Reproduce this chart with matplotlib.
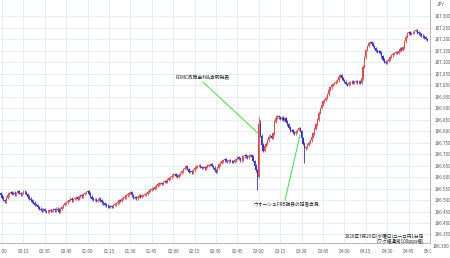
import matplotlib
matplotlib.use('Agg')
import matplotlib.pyplot as plt
import numpy as np
from matplotlib.patches import Rectangle

plt.rcParams['font.family'] = ['Noto Sans CJK JP', 'DejaVu Sans']

# ---- data (1-minute candles, minute index relative to 00:00) ----
start_minute = -1
first_open = 186.530
closes = [
    186.522, 186.510, 186.500, 186.495, 186.510, 186.520, 186.530, 186.535, 186.528, 186.532,
    186.524, 186.530, 186.538, 186.530, 186.524, 186.530, 186.536, 186.533, 186.526, 186.515,
    186.505, 186.500, 186.492, 186.488, 186.480, 186.478, 186.470, 186.462, 186.458, 186.455,
    186.460, 186.452, 186.448, 186.450, 186.456, 186.452, 186.455, 186.460, 186.456, 186.462,
    186.458, 186.450, 186.462, 186.470, 186.478, 186.485, 186.490, 186.496, 186.500, 186.505,
    186.498, 186.504, 186.508, 186.512, 186.506, 186.515, 186.520, 186.516, 186.526, 186.530,
    186.535, 186.538, 186.528, 186.515, 186.505, 186.500, 186.502, 186.496, 186.500, 186.505,
    186.498, 186.490, 186.485, 186.480, 186.476, 186.472, 186.470, 186.474, 186.470, 186.478,
    186.482, 186.486, 186.490, 186.500, 186.496, 186.505, 186.510, 186.512, 186.520, 186.525,
    186.530, 186.535, 186.520, 186.510, 186.513, 186.508, 186.515, 186.518, 186.514, 186.520,
    186.522, 186.525, 186.528, 186.535, 186.540, 186.545, 186.550, 186.548, 186.556, 186.562,
    186.568, 186.572, 186.574, 186.570, 186.578, 186.582, 186.580, 186.588, 186.595, 186.598,
    186.605, 186.610, 186.613, 186.606, 186.600, 186.610, 186.618, 186.625, 186.635, 186.640,
    186.648, 186.635, 186.622, 186.626, 186.620, 186.630, 186.640, 186.645, 186.648, 186.650,
    186.644, 186.640, 186.642, 186.638, 186.645, 186.650, 186.652, 186.655, 186.648, 186.640,
    186.630, 186.625, 186.640, 186.655, 186.662, 186.668, 186.672, 186.678, 186.670, 186.668,
    186.674, 186.670, 186.668, 186.665, 186.672, 186.678, 186.685, 186.680, 186.672, 186.676,
    186.690, 186.696, 186.690, 186.686, 186.692, 186.696, 186.688, 186.670, 186.650, 186.630,
    186.600, 186.830, 186.780, 186.740, 186.715, 186.735, 186.745, 186.760, 186.775, 186.780,
    186.770, 186.790, 186.840, 186.858, 186.865, 186.860, 186.852, 186.858, 186.850, 186.855,
    186.840, 186.830, 186.815, 186.800, 186.804, 186.795, 186.790, 186.798, 186.805, 186.812,
    186.800, 186.770, 186.745, 186.725, 186.730, 186.740, 186.750, 186.760, 186.775, 186.790,
    186.810, 186.830, 186.850, 186.880, 186.900, 186.915, 186.930, 186.935, 186.945, 186.960,
    186.980, 186.991, 187.000, 187.005, 187.009, 187.015, 187.020, 187.035, 187.043, 187.030,
    187.022, 187.015, 187.005, 187.000, 187.008, 187.012, 187.015, 187.010, 187.013, 187.018,
    187.012, 187.015, 187.010, 187.030, 187.080, 187.120, 187.152, 187.170, 187.183, 187.187,
    187.180, 187.170, 187.161, 187.150, 187.145, 187.148, 187.140, 187.125, 187.110, 187.102,
    187.098, 187.105, 187.112, 187.122, 187.130, 187.136, 187.139, 187.142, 187.140, 187.150,
    187.158, 187.152, 187.165, 187.190, 187.210, 187.225, 187.230, 187.222, 187.226, 187.228,
    187.235, 187.239, 187.230, 187.225, 187.220, 187.215, 187.212, 187.208, 187.200, 187.196,
]
# notable wick extremes (minute index -> price)
high_overrides = {180: 186.862, 181: 186.850, 192: 186.870}
low_overrides = {179: 186.543, 212: 186.661}
wick_ext = 0.006

tick_minutes = [0, 15, 30, 45, 60, 75, 90, 105, 120, 135, 150, 165, 180, 195,
                210, 225, 240, 255, 270, 285, 300]
tick_labels = ['00:00', '00:15', '00:30', '00:45', '01:00', '01:15', '01:30', '01:45',
               '02:00', '02:15', '02:30', '02:45', '03:00', '03:15', '03:30', '03:45',
               '04:00', '04:15', '04:30', '04:45', '05:00']
price_ticks = [186.35, 186.40, 186.45, 186.50, 186.55, 186.60, 186.65, 186.70, 186.75,
               186.80, 186.85, 186.90, 186.95, 187.00, 187.05, 187.10, 187.15, 187.20,
               187.25, 187.30]
price_labels = ['%.3f' % p for p in price_ticks]

# ---- figure ----
W, H = 450, 258
fig = plt.figure(figsize=(W / 100, H / 100), dpi=100)
ax = fig.add_axes([0, 1 - 243 / H, 430 / W, 243 / H])
ax.set_xlim(-1.4, 300)
ax.set_ylim(186.313, 187.370)

c = np.array(closes)
o = np.array([first_open] + closes[:-1])
x = np.arange(len(c)) + start_minute
hi = np.maximum(o, c) + wick_ext
lo = np.minimum(o, c) - wick_ext
for m, v in high_overrides.items():
    hi[m - start_minute] = v
for m, v in low_overrides.items():
    lo[m - start_minute] = v
up = c >= o
cols = np.where(up, '#e04a4a', '#3232d2')

ax.vlines(x, lo, hi, colors=cols, lw=0.6, zorder=3)
ax.bar(x, c - o, bottom=o, width=0.9, color=cols, linewidth=0, zorder=4)

# grid & axes
ax.set_xticks(tick_minutes)
ax.set_xticklabels(tick_labels, fontsize=3.3, color='#555555')
ax.yaxis.tick_right()
ax.set_yticks(price_ticks)
ax.set_yticklabels(price_labels, fontsize=3.3, color='#555555')
ax.tick_params(axis='both', length=0)
ax.tick_params(axis='y', pad=3)
ax.tick_params(axis='x', pad=4)
ax.grid(True, color='#e3ebf3', lw=0.6, zorder=0)
ax.set_axisbelow(True)
for s in ['left', 'top']:
    ax.spines[s].set_visible(False)
for s in ['right', 'bottom']:
    ax.spines[s].set_color('#bbbbbb')
    ax.spines[s].set_linewidth(0.8)

# annotations
green = '#44dd44'
ax.plot([140.9, 179.4], [187.013, 186.791], color=green, lw=0.7, zorder=5)
ax.text(121.3, 187.035, 'FOMC政策金利&声明発表', fontsize=3.4, ha='left', va='center',
        color='#222222', zorder=6)
ax.plot([198.4, 208.9], [186.500, 186.783], color=green, lw=0.7, zorder=5)
ax.text(199, 186.483, 'ウォーシュFRB議長の記者会見', fontsize=3.4, ha='center', va='center',
        color='#222222', zorder=6)

fig.text(424 / W, 1 - 236.5 / H, '2026年7月29日(水曜日)ユーロ円1分足', fontsize=3.3,
         ha='right', va='center', color='#222222')
fig.text(424 / W, 1 - 241.5 / H, '(ワク幅通常100pips幅)', fontsize=3.3,
         ha='right', va='center', color='#222222')

fig.add_artist(Rectangle((431 / W, 0), 19 / W, 15 / H, transform=fig.transFigure,
                         facecolor='white', edgecolor='none', zorder=2))
fig.text(441 / W, 1 - 5 / H, 'JPY', fontsize=3.3, ha='center', va='center', color='#555555')
fig.text(433 / W, 1 - 247 / H, '186.300', fontsize=3.3, ha='left', va='center',
         color='#555555', zorder=3)

fig.savefig('out.png', dpi=100)
